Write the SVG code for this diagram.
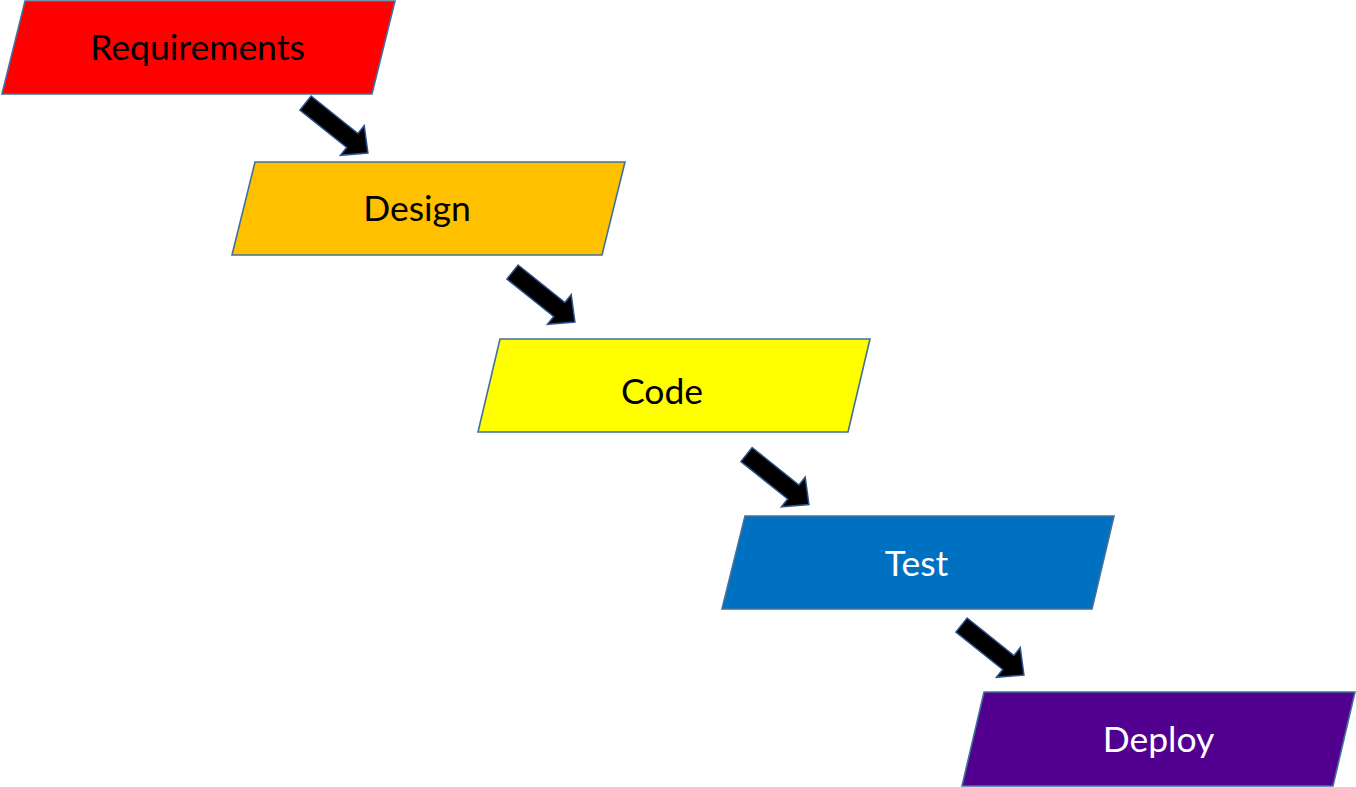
<svg xmlns="http://www.w3.org/2000/svg" width="1356" height="787" viewBox="0 0 1356 787">
<style>
.box{stroke:#41719C;stroke-width:1.6;stroke-linejoin:miter}
.lbl{font-family:Lato,"Open Sans","Liberation Sans",sans-serif;font-size:35.5px;text-anchor:middle}
.arr{fill:#000;stroke:#2F528F;stroke-width:1.5;stroke-linejoin:miter}
</style>
<defs>
<path id="ar" d="M0,-9 L60,-9 L60,-19 L80,0 L60,19 L60,9 L0,9 Z"/>
</defs>
<rect width="1356" height="787" fill="#fff"/>
<g id="connectors">
<use href="#ar" class="arr" transform="translate(305.5,103) rotate(38.7)"/>
<use href="#ar" class="arr" transform="translate(512.5,272) rotate(38.7)"/>
<use href="#ar" class="arr" transform="translate(746.5,454.5) rotate(38.7)"/>
<use href="#ar" class="arr" transform="translate(961.5,625) rotate(38.7)"/>
</g>
<g id="requirements">
<polygon class="box" fill="#FF0000" points="25,1 395,1 372,94 2,94"/>
<text class="lbl" x="197.5" y="59.5" fill="#000">Requirements</text>
</g>
<g id="design">
<polygon class="box" fill="#FFC000" points="255,162 625,162 602,255 232,255"/>
<text class="lbl" x="417" y="220.5" fill="#000">Design</text>
</g>
<g id="code">
<polygon class="box" fill="#FFFF00" points="500,339 870,339 848,432 478,432"/>
<text class="lbl" x="662" y="404" fill="#000">Code</text>
</g>
<g id="test">
<polygon class="box" fill="#0070C0" points="745,516 1114,516 1092,609 722,609"/>
<text class="lbl" x="916.5" y="576" fill="#fff">Test</text>
</g>
<g id="deploy">
<polygon class="box" fill="#520090" points="984,692 1355,692 1333,786 962,786"/>
<text class="lbl" x="1158.5" y="752" fill="#fff">Deploy</text>
</g>
</svg>
